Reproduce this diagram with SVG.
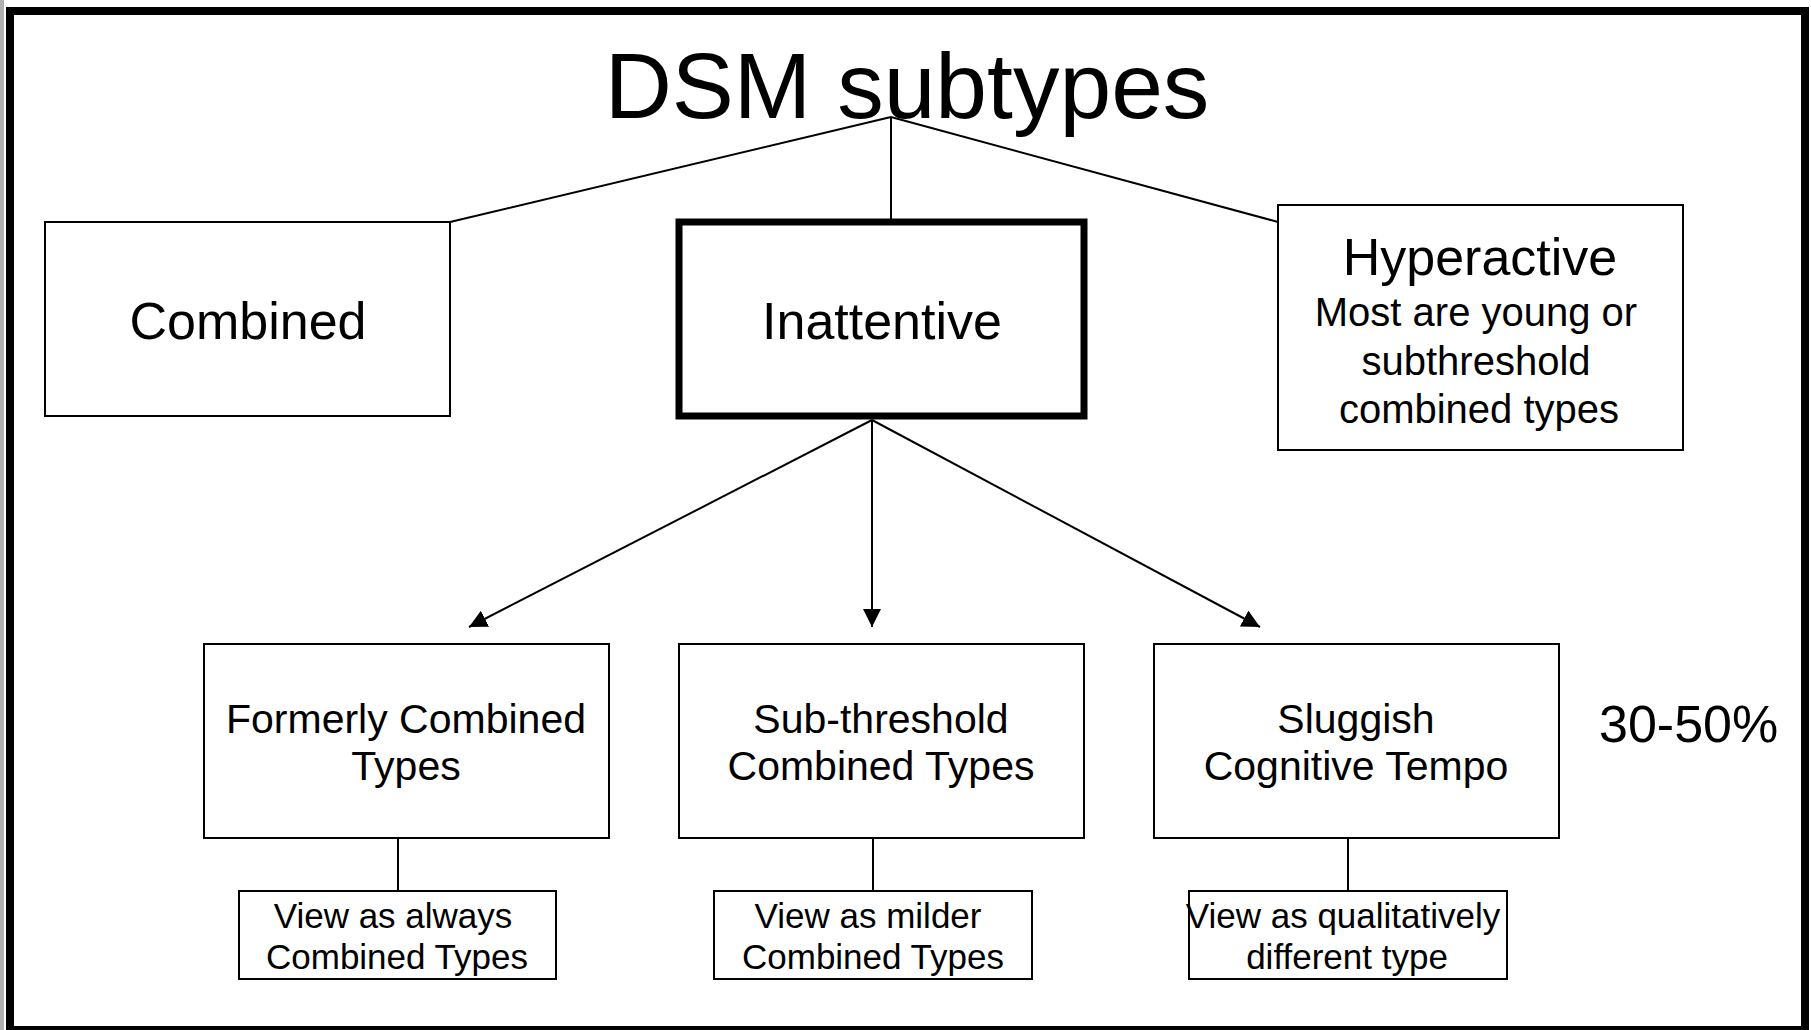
<svg xmlns="http://www.w3.org/2000/svg" width="1811" height="1030" viewBox="0 0 1811 1030">
<style>
text{font-family:"Liberation Sans",Arial,sans-serif;fill:#000;text-anchor:middle}
.box{fill:#fff;stroke:#000;stroke-width:2}
.thick{fill:#fff;stroke:#000;stroke-width:7}
.ln{stroke:#000;stroke-width:2;fill:none}
.t52{font-size:52px}
.t41{font-size:41px}
.t35{font-size:35px}
.t40{font-size:40px}
</style>
<defs>
<marker id="ah" viewBox="0 0 18 18" refX="18" refY="9" markerWidth="18" markerHeight="18" markerUnits="userSpaceOnUse" orient="auto">
<path d="M0,0 L18,9 L0,18 Z" fill="#000"/>
</marker>
</defs>
<rect x="0" y="0" width="1811" height="1030" fill="#fff"/>
<rect x="0" y="0" width="4" height="1030" fill="#b0b0b0"/>
<rect x="10" y="11" width="1795" height="1019" fill="none" stroke="#000" stroke-width="8"/>
<g id="title"><text x="907" y="118" style="font-size:93px">DSM subtypes</text></g>
<g id="connectors">
<line class="ln" x1="891" y1="117" x2="450" y2="222"/>
<line class="ln" x1="891" y1="117" x2="891" y2="219"/>
<line class="ln" x1="891" y1="117" x2="1278" y2="222"/>
<line class="ln" x1="872" y1="420" x2="469" y2="627" marker-end="url(#ah)"/>
<line class="ln" x1="872" y1="420" x2="872" y2="627" marker-end="url(#ah)"/>
<line class="ln" x1="872" y1="420" x2="1260" y2="627" marker-end="url(#ah)"/>
<line class="ln" x1="398" y1="838" x2="398" y2="891"/>
<line class="ln" x1="873" y1="838" x2="873" y2="891"/>
<line class="ln" x1="1348" y1="838" x2="1348" y2="891"/>
</g>
<g id="combined"><rect class="box" x="45" y="222" width="405" height="194"/><text class="t52" x="248" y="339">Combined</text></g>
<g id="inattentive"><rect class="thick" x="679" y="222" width="405" height="194"/><text class="t52" x="882" y="339">Inattentive</text></g>
<g id="hyperactive"><rect class="box" x="1278" y="205" width="405" height="245"/>
<text class="t52" x="1480" y="275">Hyperactive</text>
<text class="t40" x="1476" y="326">Most are young or</text>
<text class="t40" x="1476" y="375">subthreshold</text>
<text class="t40" x="1479" y="423">combined types</text></g>
<g id="formerly"><rect class="box" x="204" y="644" width="405" height="194"/><text class="t41" x="406" y="733">Formerly Combined</text><text class="t41" x="406" y="780">Types</text></g>
<g id="subthreshold"><rect class="box" x="679" y="644" width="405" height="194"/><text class="t41" x="881" y="733">Sub-threshold</text><text class="t41" x="881" y="780">Combined Types</text></g>
<g id="sluggish"><rect class="box" x="1154" y="644" width="405" height="194"/><text class="t41" x="1356" y="733">Sluggish</text><text class="t41" x="1356" y="780">Cognitive Tempo</text></g>
<g id="view1"><rect class="box" x="239" y="891" width="317" height="88"/><text class="t35" x="393" y="928">View as always</text><text class="t35" x="397" y="969">Combined Types</text></g>
<g id="view2"><rect class="box" x="714" y="891" width="318" height="88"/><text class="t35" x="868" y="928">View as milder</text><text class="t35" x="873" y="969">Combined Types</text></g>
<g id="view3"><rect class="box" x="1189" y="891" width="318" height="88"/><text class="t35" x="1343" y="928">View as qualitatively</text><text class="t35" x="1347" y="969">different type</text></g>
<g id="pct"><text class="t52" x="1599" y="742" style="text-anchor:start">30-50%</text></g>
</svg>
